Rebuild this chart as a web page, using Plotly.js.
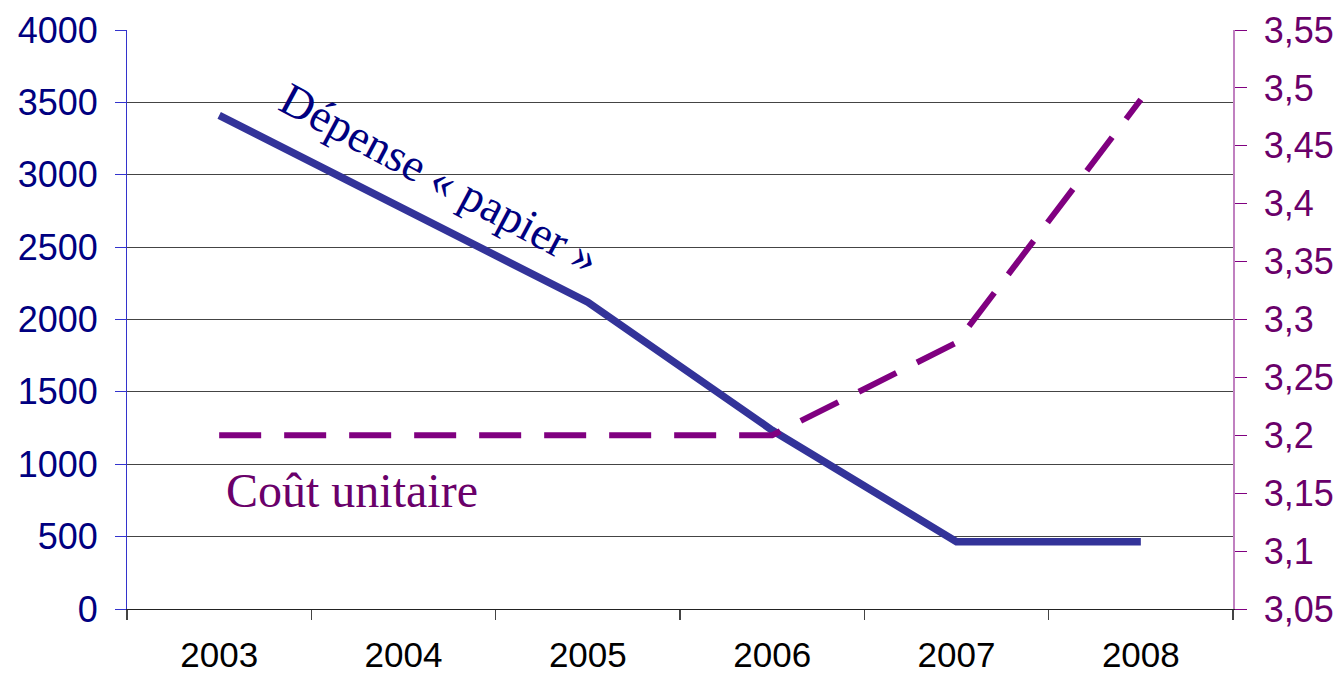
<!DOCTYPE html>
<html><head><meta charset="utf-8">
<script src="https://cdn.plot.ly/plotly-3.0.1.min.js"></script>
<style>html,body{margin:0;padding:0;background:#fff;}#chart{width:1344px;height:679px;}</style>
</head><body><div id="chart"></div>
<script>
const years = ['2003','2004','2005','2006','2007','2008'];
const depensePapier = [3410, 2765, 2120, 1235, 465, 465];
const coutUnitaire = [3.2, 3.2, 3.2, 3.2, 3.28, 3.49];
const labelDepense = 'Dépense « papier »';
const labelCout = 'Coût unitaire';

const traces = [
  {x: years, y: depensePapier, type: 'scatter', mode: 'lines', name: labelDepense,
   line: {color: '#333399', width: 7.5}, yaxis: 'y'},
  {x: years, y: coutUnitaire, type: 'scatter', mode: 'lines', name: labelCout,
   line: {color: '#800080', width: 6, dash: '42px,23px'}, yaxis: 'y2'}
];
const layout = {
  width: 1344, height: 679,
  margin: {l: 127, r: 111, t: 30, b: 70},
  paper_bgcolor: '#fff', plot_bgcolor: '#fff',
  showlegend: false,
  separators: ', ',
  font: {family: 'Liberation Sans, Arial, sans-serif'},
  xaxis: {type: 'category', tickson: 'boundaries', ticks: 'outside', ticklen: 10,
    tickcolor: '#444', tickwidth: 1.5, showline: true, linecolor: '#222', linewidth: 1,
    showgrid: false, tickfont: {size: 35, color: '#000'}, range: [-0.5, 5.5],
    ticklabelstandoff: 15},
  yaxis: {range: [0, 4000], dtick: 500, ticks: 'outside', ticklen: 11, tickcolor: '#3333cc',
    showline: true, linecolor: '#3333cc', linewidth: 1, showgrid: true, gridcolor: '#444',
    gridwidth: 1, zeroline: false, tickfont: {size: 36, color: '#000080'}, ticklabelstandoff: 10},
  yaxis2: {range: [3.05, 3.55], dtick: 0.05, tick0: 3.05, overlaying: 'y', side: 'right',
    ticks: 'outside', ticklen: 12, tickcolor: '#800080', showline: true, linecolor: '#c080c0',
    linewidth: 1.5, showgrid: false, zeroline: false, tickfont: {size: 36, color: '#6a006a'},
    ticklabelstandoff: 10},
  annotations: [
    {text: labelDepense, xref: 'x', yref: 'y', x: 1.2, y: 2975, showarrow: false,
     textangle: 28, font: {family: 'Liberation Serif, Times New Roman, serif', size: 46, color: '#000080'}},
    {text: labelCout, xref: 'x', yref: 'y', x: 0.72, y: 820, showarrow: false,
     font: {family: 'Liberation Serif, Times New Roman, serif', size: 48, color: '#6a006a'}}
  ]
};
Plotly.newPlot('chart', traces, layout, {displayModeBar: false, staticPlot: true});
</script></body></html>
